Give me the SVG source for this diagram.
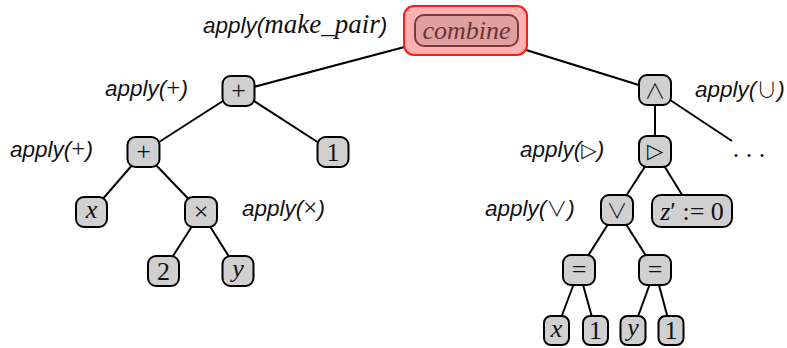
<svg xmlns="http://www.w3.org/2000/svg" width="787" height="348" viewBox="0 0 787 348">
  <style>
    .edge { stroke: #000; stroke-width: 2; fill: none; }
    .box { fill: #d0d0d0; stroke: #000; stroke-width: 2; }
    .sym { font-family: "Liberation Serif", "DejaVu Serif", serif; font-size: 26px; fill: #111; text-anchor: middle; }
    .op { font-family: "Noto Sans CJK JP", "DejaVu Sans", serif; font-weight: 300; font-size: 21px; fill: #111; text-anchor: middle; }
    .tri { font-family: "DejaVu Sans", sans-serif; font-size: 21px; fill: #111; text-anchor: middle; }
    .var { font-family: "Liberation Serif", "DejaVu Serif", serif; font-style: italic; font-size: 26px; fill: #111; text-anchor: middle; }
    .lbl { font-family: "Liberation Sans", Arial, sans-serif; font-style: italic; font-size: 22.5px; fill: #111; }
    .lbl .m { font-family: "Liberation Serif", "DejaVu Serif", serif; font-style: normal; font-size: 25px; }
    .lbl .ms { font-family: "Noto Sans CJK JP", "DejaVu Sans", sans-serif; font-weight: 300; font-style: normal; font-size: 21px; }
    .lbl .mt { font-family: "DejaVu Sans", sans-serif; font-style: normal; font-size: 20px; }
    .lbl .mi { font-family: "Liberation Serif", serif; font-style: italic; font-size: 27px; }
  </style>

  <!-- tree edges, drawn under the nodes -->
  <g id="edges">
    <line class="edge" x1="465" y1="31" x2="238.5" y2="91"/>
    <line class="edge" x1="465" y1="31" x2="655" y2="90"/>
    <line class="edge" x1="238.5" y1="91" x2="143.5" y2="152"/>
    <line class="edge" x1="238.5" y1="91" x2="333" y2="152"/>
    <line class="edge" x1="143.5" y1="152" x2="91.5" y2="212"/>
    <line class="edge" x1="143.5" y1="152" x2="201" y2="212"/>
    <line class="edge" x1="201" y1="212" x2="163.5" y2="271"/>
    <line class="edge" x1="201" y1="212" x2="238" y2="271"/>
    <line class="edge" x1="655" y1="90" x2="655" y2="151"/>
    <line class="edge" x1="655" y1="90" x2="732" y2="141"/>
    <line class="edge" x1="655" y1="151" x2="617" y2="210"/>
    <line class="edge" x1="655" y1="151" x2="692" y2="211"/>
    <line class="edge" x1="617" y1="210" x2="579" y2="270"/>
    <line class="edge" x1="617" y1="210" x2="655" y2="270"/>
    <line class="edge" x1="579" y1="270" x2="556.5" y2="330"/>
    <line class="edge" x1="579" y1="270" x2="595.5" y2="330"/>
    <line class="edge" x1="655" y1="270" x2="633" y2="330"/>
    <line class="edge" x1="655" y1="270" x2="671" y2="330"/>
  </g>

  <!-- root: highlighted combine node -->
  <g id="n-combine">
    <rect x="404" y="6" width="123" height="49" rx="10" fill="#ffb0b0" stroke="#ff1a1a" stroke-width="2"/>
    <rect x="415" y="15" width="103" height="31" rx="9" fill="#dfa0a0" stroke="#7a3a3a" stroke-width="2"/>
    <text x="466.5" y="39" font-family="Liberation Serif, serif" font-style="italic" font-size="26" fill="#6b3434" text-anchor="middle" textLength="88" lengthAdjust="spacingAndGlyphs">combine</text>
  </g>

  <!-- left subtree -->
  <g id="n-plus1">
    <rect class="box" x="222.5" y="76" width="32" height="30" rx="8"/>
    <text class="sym" x="238.5" y="99">+</text>
  </g>
  <g id="n-plus2">
    <rect class="box" x="127.5" y="137" width="32" height="30" rx="8"/>
    <text class="sym" x="143.5" y="160">+</text>
  </g>
  <g id="n-one1">
    <rect class="box" x="317.5" y="137" width="31" height="30" rx="8"/>
    <text class="sym" x="333" y="161">1</text>
  </g>
  <g id="n-x1">
    <rect class="box" x="76" y="197" width="31" height="30" rx="8"/>
    <text class="var" x="91.5" y="218">x</text>
  </g>
  <g id="n-times">
    <rect class="box" x="185" y="197" width="32" height="30" rx="8"/>
    <text class="sym" x="201" y="220">×</text>
  </g>
  <g id="n-two">
    <rect class="box" x="148" y="256" width="31" height="30" rx="8"/>
    <text class="sym" x="163.5" y="280">2</text>
  </g>
  <g id="n-y1">
    <rect class="box" x="222.5" y="256" width="31" height="30" rx="8"/>
    <text class="var" x="238" y="277">y</text>
  </g>

  <!-- right subtree -->
  <g id="n-and">
    <rect class="box" x="639" y="75" width="32" height="30" rx="8"/>
    <text class="op" x="655" y="98">∧</text>
  </g>
  <g id="n-tri">
    <rect class="box" x="639" y="136" width="32" height="31" rx="8"/>
    <text class="tri" x="655" y="158">▷</text>
  </g>
  <g id="n-dots">
    <text class="sym" x="749" y="157">. . .</text>
  </g>
  <g id="n-or">
    <rect class="box" x="601" y="195" width="32" height="30" rx="8"/>
    <text class="op" x="617" y="218">∨</text>
  </g>
  <g id="n-assign">
    <rect class="box" x="652" y="195" width="80" height="32" rx="9"/>
    <text class="sym" x="692" y="220"><tspan font-style="italic">z</tspan>′ := 0</text>
  </g>
  <g id="n-eq1">
    <rect class="box" x="563" y="255" width="32" height="30" rx="8"/>
    <text class="sym" x="579" y="278">=</text>
  </g>
  <g id="n-eq2">
    <rect class="box" x="639" y="255" width="32" height="30" rx="8"/>
    <text class="sym" x="655" y="278">=</text>
  </g>
  <g id="n-x2">
    <rect class="box" x="544" y="316" width="25" height="29" rx="7"/>
    <text class="var" x="556.5" y="337">x</text>
  </g>
  <g id="n-one2">
    <rect class="box" x="583" y="316" width="25" height="29" rx="7"/>
    <text class="sym" x="595.5" y="339">1</text>
  </g>
  <g id="n-y2">
    <rect class="box" x="620.5" y="316" width="25" height="29" rx="7"/>
    <text class="var" x="633" y="336">y</text>
  </g>
  <g id="n-one3">
    <rect class="box" x="658.5" y="316" width="25" height="29" rx="7"/>
    <text class="sym" x="671" y="339">1</text>
  </g>

  <!-- annotations -->
  <g id="labels">
    <text class="lbl" x="203" y="33">apply(<tspan class="mi">make_pair</tspan>)</text>
    <text class="lbl" x="105" y="96">apply(<tspan class="m">+</tspan>)</text>
    <text class="lbl" x="10" y="157">apply(<tspan class="m">+</tspan>)</text>
    <text class="lbl" x="242" y="216">apply(<tspan class="m">×</tspan>)</text>
    <text class="lbl" x="695" y="97">apply(<tspan class="ms">∪</tspan>)</text>
    <text class="lbl" x="520" y="157">apply(<tspan class="mt">▷</tspan>)</text>
    <text class="lbl" x="485" y="216">apply(<tspan class="ms">∨</tspan>)</text>
  </g>
</svg>
